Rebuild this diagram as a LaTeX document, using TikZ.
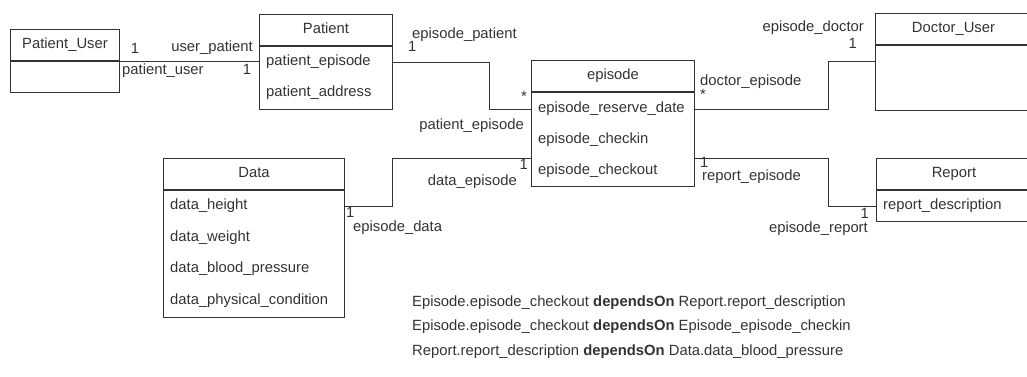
\documentclass[tikz,border=0pt]{standalone}
\usepackage{fontspec}
\setmainfont{Liberation Sans}
\usetikzlibrary{calc}
\definecolor{ink}{HTML}{333333}
\begin{document}
\begin{tikzpicture}[x=1pt,y=-1pt,
  every node/.style={font=\fontsize{14.8}{17}\selectfont, text=ink, inner sep=0pt, text height=10.5pt, text depth=3pt},
  hdr/.style={draw=ink, line width=1pt, anchor=north west, minimum height=31pt},
  bodybox/.style={draw=ink, line width=1pt, anchor=north, minimum height=#1},
  attr/.style={anchor=west},
  lbl/.style={},
  conn/.style={draw=ink, line width=1pt},
]
\useasboundingbox (0,0) rectangle (1027,376);

% ---------- classes ----------
% Patient_User
\node[hdr, minimum width=109pt] (puh) at (10,29) {Patient\_User};
\node[bodybox=31pt, minimum width=109pt] (pub) at (puh.south) {};

% Patient
\node[hdr, minimum width=133pt] (pah) at (259,14) {Patient};
\node[bodybox=63pt, minimum width=133pt] (pab) at (pah.south) {};
\node[attr] (pa1) at ($(pab.north west)+(7,16)$) {patient\_episode};
\node[attr] (pa2) at ($(pab.north west)+(7,47)$) {patient\_address};

% episode
\node[hdr, minimum width=163pt] (eph) at (531,60) {episode};
\node[bodybox=94pt, minimum width=163pt] (epb) at (eph.south) {};
\node[attr] (ep1) at ($(epb.north west)+(7,17)$) {episode\_reserve\_date};
\node[attr] (ep2) at ($(epb.north west)+(7,48)$) {episode\_checkin};
\node[attr] (ep3) at ($(epb.north west)+(7,79)$) {episode\_checkout};

% Doctor_User
\node[hdr, minimum width=156pt] (duh) at (875,13) {Doctor\_User};
\node[bodybox=65pt, minimum width=156pt] (dub) at (duh.south) {};

% Data
\node[hdr, minimum width=181pt] (dah) at (163,158) {Data};
\node[bodybox=127pt, minimum width=181pt] (dab) at (dah.south) {};
\node[attr] (da1) at ($(dab.north west)+(7,16)$) {data\_height};
\node[attr] (da2) at ($(dab.north west)+(7,48)$) {data\_weight};
\node[attr] (da3) at ($(dab.north west)+(7,79)$) {data\_blood\_pressure};
\node[attr] (da4) at ($(dab.north west)+(7,111)$) {data\_physical\_condition};

% Report
\node[hdr, minimum width=155pt] (reh) at (876,158) {Report};
\node[bodybox=31pt, minimum width=155pt] (reb) at (reh.south) {};
\node[attr] (re1) at ($(reb.north west)+(7,16)$) {report\_description};

% ---------- bend points ----------
\coordinate (k1) at (489,0);
\coordinate (k2) at (828,0);
\coordinate (k3) at (392,0);
\coordinate (k4) at (828,0);
\coordinate (ein) at (0,158);

% ---------- associations ----------
\draw[conn] (puh.south east) -- (puh.south east -| pab.west);
\draw[conn] (pab.east |- pa1) -- (k1 |- pa1) -- (k1 |- ep1) -- (epb.west |- ep1);
\draw[conn] (epb.east |- ep1) -- (k2 |- ep1) -- (k2 |- 0,61) -- (dub.west |- 0,61);
\draw[conn] (dab.east |- da1) -- (k3 |- da1) -- (k3 |- ein) -- (epb.west |- ein);
\draw[conn] (epb.east |- ein) -- (k4 |- ein) -- (k4 |- re1) -- (reb.west |- re1);

% ---------- role names and multiplicities ----------
\node[lbl] (m1) at (135,50) {1};
\node[lbl, anchor=east] (r1) at (253,48) {user\_patient};
\node[lbl, anchor=west] (r2) at (122,71) {patient\_user};
\node[lbl] (m2) at (247,71) {1};

\node[lbl, anchor=west] (r3) at (412,35) {episode\_patient};
\node[lbl, anchor=west] (m3) at (408,48) {1};
\node[lbl] (m4) at (524,98) {*};
\node[lbl, anchor=east] (r4) at (524,126) {patient\_episode};

\node[lbl, anchor=east] (r5) at (864,28) {episode\_doctor};
\node[lbl, anchor=east] (m5) at (857,45) {1};
\node[lbl, anchor=west] (r6) at (700,82) {doctor\_episode};
\node[lbl, anchor=west] (m6) at (700,96) {*};

\node[lbl, anchor=east] (m7) at (528,166) {1};
\node[lbl, anchor=east] (r7) at (517,182) {data\_episode};
\node[lbl, anchor=west] (m8) at (346,214) {1};
\node[lbl, anchor=west] (r8) at (353,228) {episode\_data};

\node[lbl, anchor=west] (m9) at (700,164) {1};
\node[lbl, anchor=west] (r9) at (702,177) {report\_episode};
\node[lbl, anchor=east] (m10) at (869,215) {1};
\node[lbl, anchor=east] (r10) at (868,229) {episode\_report};

% ---------- dependency notes ----------
\node[anchor=west] (n1) at (412,303) {Episode.episode\_checkout \textbf{dependsOn} Report.report\_description};
\node[anchor=west] (n2) at (412,327) {Episode.episode\_checkout \textbf{dependsOn} Episode\_episode\_checkin};
\node[anchor=west] (n3) at (412,352) {Report.report\_description \textbf{dependsOn} Data.data\_blood\_pressure};
\end{tikzpicture}
\end{document}
